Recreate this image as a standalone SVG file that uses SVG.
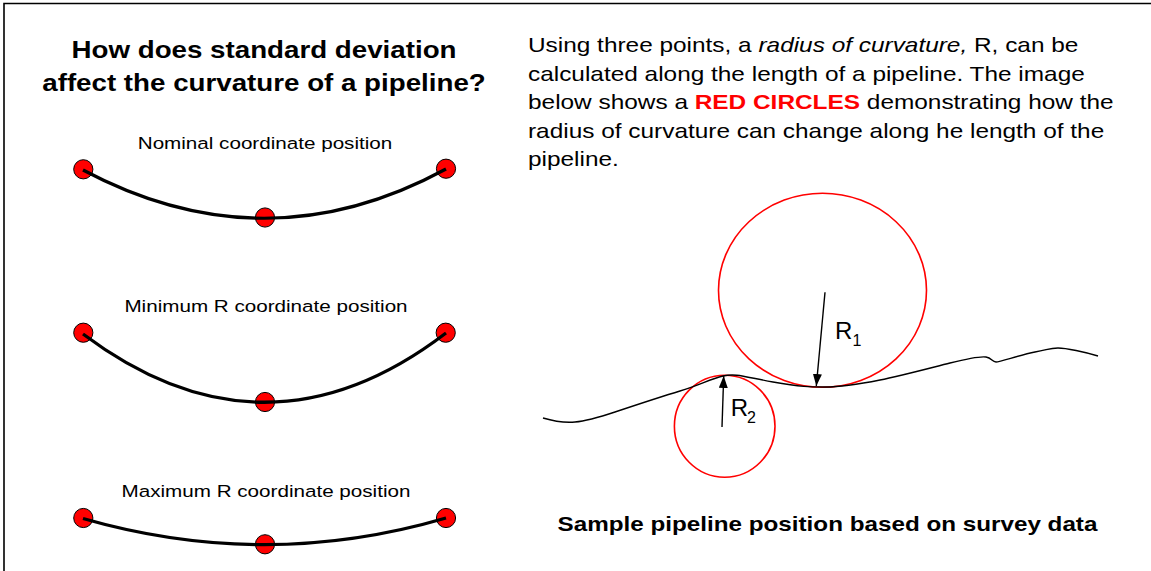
<svg xmlns="http://www.w3.org/2000/svg" width="1151" height="571" viewBox="0 0 1151 571">
  <style>
    text { font-family: "Liberation Sans", Arial, sans-serif; fill: #000; }
    .title { font-size: 23.5px; font-weight: bold; text-anchor: middle; }
    .label { font-size: 17.2px; text-anchor: middle; }
    .para { font-size: 20px; }
    .caption { font-size: 20.2px; font-weight: bold; text-anchor: middle; }
    .rlab { font-size: 24px; }
    .rsub { font-size: 16px; }
    .pipe { fill: none; stroke: #000; stroke-width: 3.2; }
    .dot { fill: #ff0000; stroke: #000; stroke-width: 1; }
    .rc { fill: none; stroke: #ff0000; stroke-width: 1.6; }
    .wave { fill: none; stroke: #000; stroke-width: 1.4; }
    .arrow { fill: none; stroke: #000; stroke-width: 1.4; marker-end: url(#ah); }
  </style>
  <defs>
    <marker id="ah" markerUnits="userSpaceOnUse" markerWidth="14" markerHeight="10" refX="12" refY="4.5" orient="auto">
      <path d="M0,0 L12,4.5 L0,9 z" fill="#000"/>
    </marker>
  </defs>
  <rect width="1151" height="571" fill="#fff"/>
  <path d="M4,571 L4,3.5 L1151,3.5" fill="none" stroke="#000" stroke-width="1.6"/>

  <g id="title" transform="matrix(1.18 0 0 1 264 0)">
    <text class="title" x="0" y="58">How does standard deviation</text>
    <text class="title" x="0" y="91">affect the curvature of a pipeline?</text>
  </g>

  <g id="nominal">
    <g transform="matrix(1.2 0 0 1 265 0)"><text class="label" x="0" y="149">Nominal coordinate position</text></g>
    <circle class="dot" cx="83.3" cy="169.3" r="9.6"/>
    <circle class="dot" cx="265" cy="217.5" r="9.6"/>
    <circle class="dot" cx="446" cy="168.7" r="9.6"/>
    <path class="pipe" d="M83,170 Q265.5,267 446,169"/>
  </g>

  <g id="minimum">
    <g transform="matrix(1.2 0 0 1 266 0)"><text class="label" x="0" y="312">Minimum R coordinate position</text></g>
    <circle class="dot" cx="83.3" cy="332.7" r="9.6"/>
    <circle class="dot" cx="265" cy="402" r="9.6"/>
    <circle class="dot" cx="445.7" cy="332.7" r="9.6"/>
    <path class="pipe" d="M83,334 Q265.5,471 446,333"/>
  </g>

  <g id="maximum">
    <g transform="matrix(1.2 0 0 1 266 0)"><text class="label" x="0" y="497">Maximum R coordinate position</text></g>
    <circle class="dot" cx="83.3" cy="518" r="9.6"/>
    <circle class="dot" cx="265" cy="544.3" r="9.6"/>
    <circle class="dot" cx="446" cy="518" r="9.6"/>
    <path class="pipe" d="M83,518.5 Q265.5,571 446,518"/>
  </g>

  <g id="paragraph" transform="matrix(1.22 0 0 1 528 0)">
    <text class="para" x="0" y="52">Using three points, a <tspan font-style="italic">radius of curvature,</tspan> R, can be</text>
    <text class="para" x="0" y="80.6">calculated along the length of a pipeline. The image</text>
    <text class="para" x="0" y="109.2">below shows a <tspan font-weight="bold" fill="#ff0000">RED CIRCLES</tspan> demonstrating how the</text>
    <text class="para" x="0" y="137.8">radius of curvature can change along he length of the</text>
    <text class="para" x="0" y="166.4">pipeline.</text>
  </g>

  <g id="survey">
    <ellipse class="rc" cx="822.5" cy="290.3" rx="104" ry="97"/>
    <ellipse class="rc" cx="724.7" cy="426.2" rx="50.3" ry="51"/>
    <path class="wave" d="M543,418 C553,421 563,423 575,422 S600,417 615,412 S660,397 680,391 S710,379 723,376 S745,377 773,382 S810,387 825,387 S860,384 880,380 S930,368 950,363 S980,356 986,357 S992,362 996,362 S1020,355 1035,352 S1050,348 1058,348 S1085,352 1098,356"/>
    <text class="rlab" x="835" y="339">R</text>
    <text class="rsub" x="852.5" y="346">1</text>
    <text class="rlab" x="730.7" y="416">R</text>
    <text class="rsub" x="747" y="423">2</text>
  </g>

  <g id="connectors">
    <line class="arrow" x1="825" y1="292.3" x2="816.3" y2="386"/>
    <line class="arrow" x1="722" y1="427" x2="723.7" y2="376"/>
  </g>

  <g id="caption" transform="matrix(1.2 0 0 1 827.5 0)">
    <text class="caption" x="0" y="531">Sample pipeline position based on survey data</text>
  </g>
</svg>
